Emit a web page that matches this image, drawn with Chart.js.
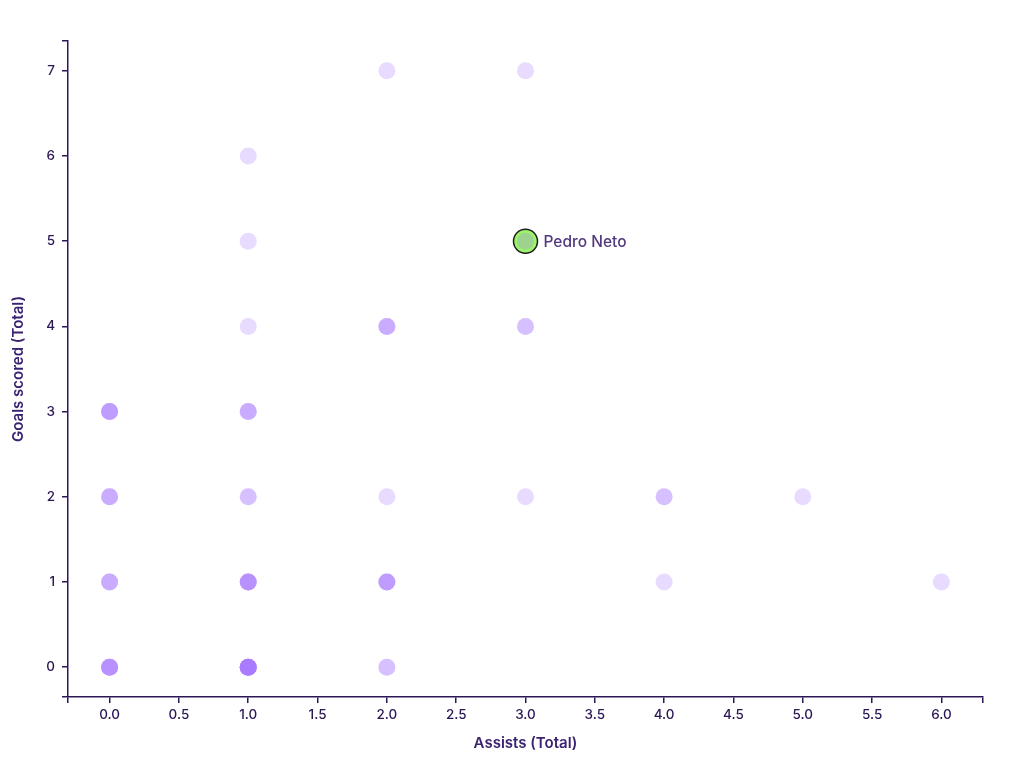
<!DOCTYPE html>
<html lang="en">
<head>
    <meta charset="UTF-8">
    <title>Goals vs assists</title>
    <script src="https://cdn.jsdelivr.net/npm/chart.js@4.4.0/dist/chart.umd.min.js"></script>
    <style>
      body { margin: 0; background: #fff; }
    </style>
</head>
<body>
 <canvas id="myChart" width="1024" height="765"></canvas>
 <script>
    // one entry per player (points overlap, the alpha builds up)
    const assists = [
      0,0,0,0,0,  1,1,1,1,1,1,1,1,1,  2,2,
      0,0,0,  1,1,1,1,1,  2,2,2,2,  4,  6,
      0,0,0,  1,1,  2,  3,  4,4,  5,
      0,0,0,0,  1,1,1,
      1,  2,2,2,  3,3,
      1,  3,
      1,
      2,  3
    ];
    const goals = [
      0,0,0,0,0,  0,0,0,0,0,0,0,0,0,  0,0,
      1,1,1,  1,1,1,1,1,  1,1,1,1,  1,  1,
      2,2,2,  2,2,  2,  2,  2,2,  2,
      3,3,3,3,  3,3,3,
      4,  4,4,4,  4,4,
      5,  5,
      6,
      7,  7
    ];
    const highlightName = 'Pedro Neto';
    const highlightAssists = 3;
    const highlightGoals = 5;

    const xTicks = [0, 0.5, 1, 1.5, 2, 2.5, 3, 3.5, 4, 4.5, 5, 5.5, 6];
    const yTicks = [0, 1, 2, 3, 4, 5, 6, 7];

    const ink = '#2c1756';
    const fontFamily = 'Inter, "DejaVu Sans", sans-serif';

    const labelPlugin = {
      id: 'highlightLabel',
      afterDatasetsDraw(chart) {
        const ctx = chart.ctx;
        const x = chart.scales.x.getPixelForValue(highlightAssists);
        const y = chart.scales.y.getPixelForValue(highlightGoals);
        ctx.save();
        ctx.font = '500 15.5px ' + fontFamily;
        ctx.fillStyle = '#52397e';
        ctx.textAlign = 'left';
        ctx.textBaseline = 'middle';
        ctx.fillText(highlightName, x + 18, y + 1);
        ctx.restore();
      }
    };

    const ctx = document.getElementById('myChart').getContext('2d');
    const myChart = new Chart(ctx, {
      type: 'scatter',
      data: {
        datasets: [
          {
            label: 'Players',
            data: assists.map((a, i) => ({ x: a, y: goals[i] })),
            backgroundColor: 'rgba(165, 110, 255, 0.25)',
            borderWidth: 0,
            pointRadius: 8.5
          },
          {
            label: highlightName,
            data: [{ x: highlightAssists, y: highlightGoals }],
            backgroundColor: '#9cf46a',
            borderColor: '#1e1e1e',
            borderWidth: 1.5,
            pointRadius: 12
          }
        ]
      },
      options: {
        responsive: false,
        animation: false,
        events: [],
        layout: {
          padding: { left: 0, right: 41, top: 41, bottom: 0 }
        },
        plugins: {
          legend: { display: false },
          tooltip: { enabled: false }
        },
        scales: {
          x: {
            type: 'linear',
            min: -0.3,
            max: 6.3,
            afterFit: s => { s.height = 68; },
            afterBuildTicks: s => {
              s.ticks = [-0.3].concat(xTicks, [6.3]).map(v => ({ value: v }));
            },
            ticks: {
              color: ink,
              padding: 4,
              maxRotation: 0,
              autoSkip: false,
              font: { family: fontFamily, size: 13.5, weight: '500' },
              callback: v => xTicks.includes(v) ? v.toFixed(1) : ''
            },
            grid: {
              drawOnChartArea: false,
              drawTicks: true,
              tickLength: 6,
              color: ink,
              lineWidth: 1.5
            },
            border: { display: true, color: ink, width: 1.5 },
            title: {
              display: true,
              text: 'Assists (Total)',
              color: '#3a2270',
              padding: { top: 4, bottom: 13 },
              font: { family: fontFamily, size: 15, weight: '600' }
            }
          },
          y: {
            type: 'linear',
            min: -0.35,
            max: 7.35,
            afterFit: s => { s.width = 68; },
            afterBuildTicks: s => {
              s.ticks = [-0.35].concat(yTicks, [7.35]).map(v => ({ value: v }));
            },
            ticks: {
              color: ink,
              padding: 7,
              autoSkip: false,
              font: { family: fontFamily, size: 13.5, weight: '500' },
              callback: v => yTicks.includes(v) ? String(v) : ''
            },
            grid: {
              drawOnChartArea: false,
              drawTicks: true,
              tickLength: 6,
              color: ink,
              lineWidth: 1.5
            },
            border: { display: true, color: ink, width: 1.5 },
            title: {
              display: true,
              text: 'Goals scored (Total)',
              color: '#3a2270',
              padding: { top: 9, bottom: 4 },
              font: { family: fontFamily, size: 15, weight: '600' }
            }
          }
        }
      },
      plugins: [labelPlugin]
    });
 </script>
</body>
</html>
